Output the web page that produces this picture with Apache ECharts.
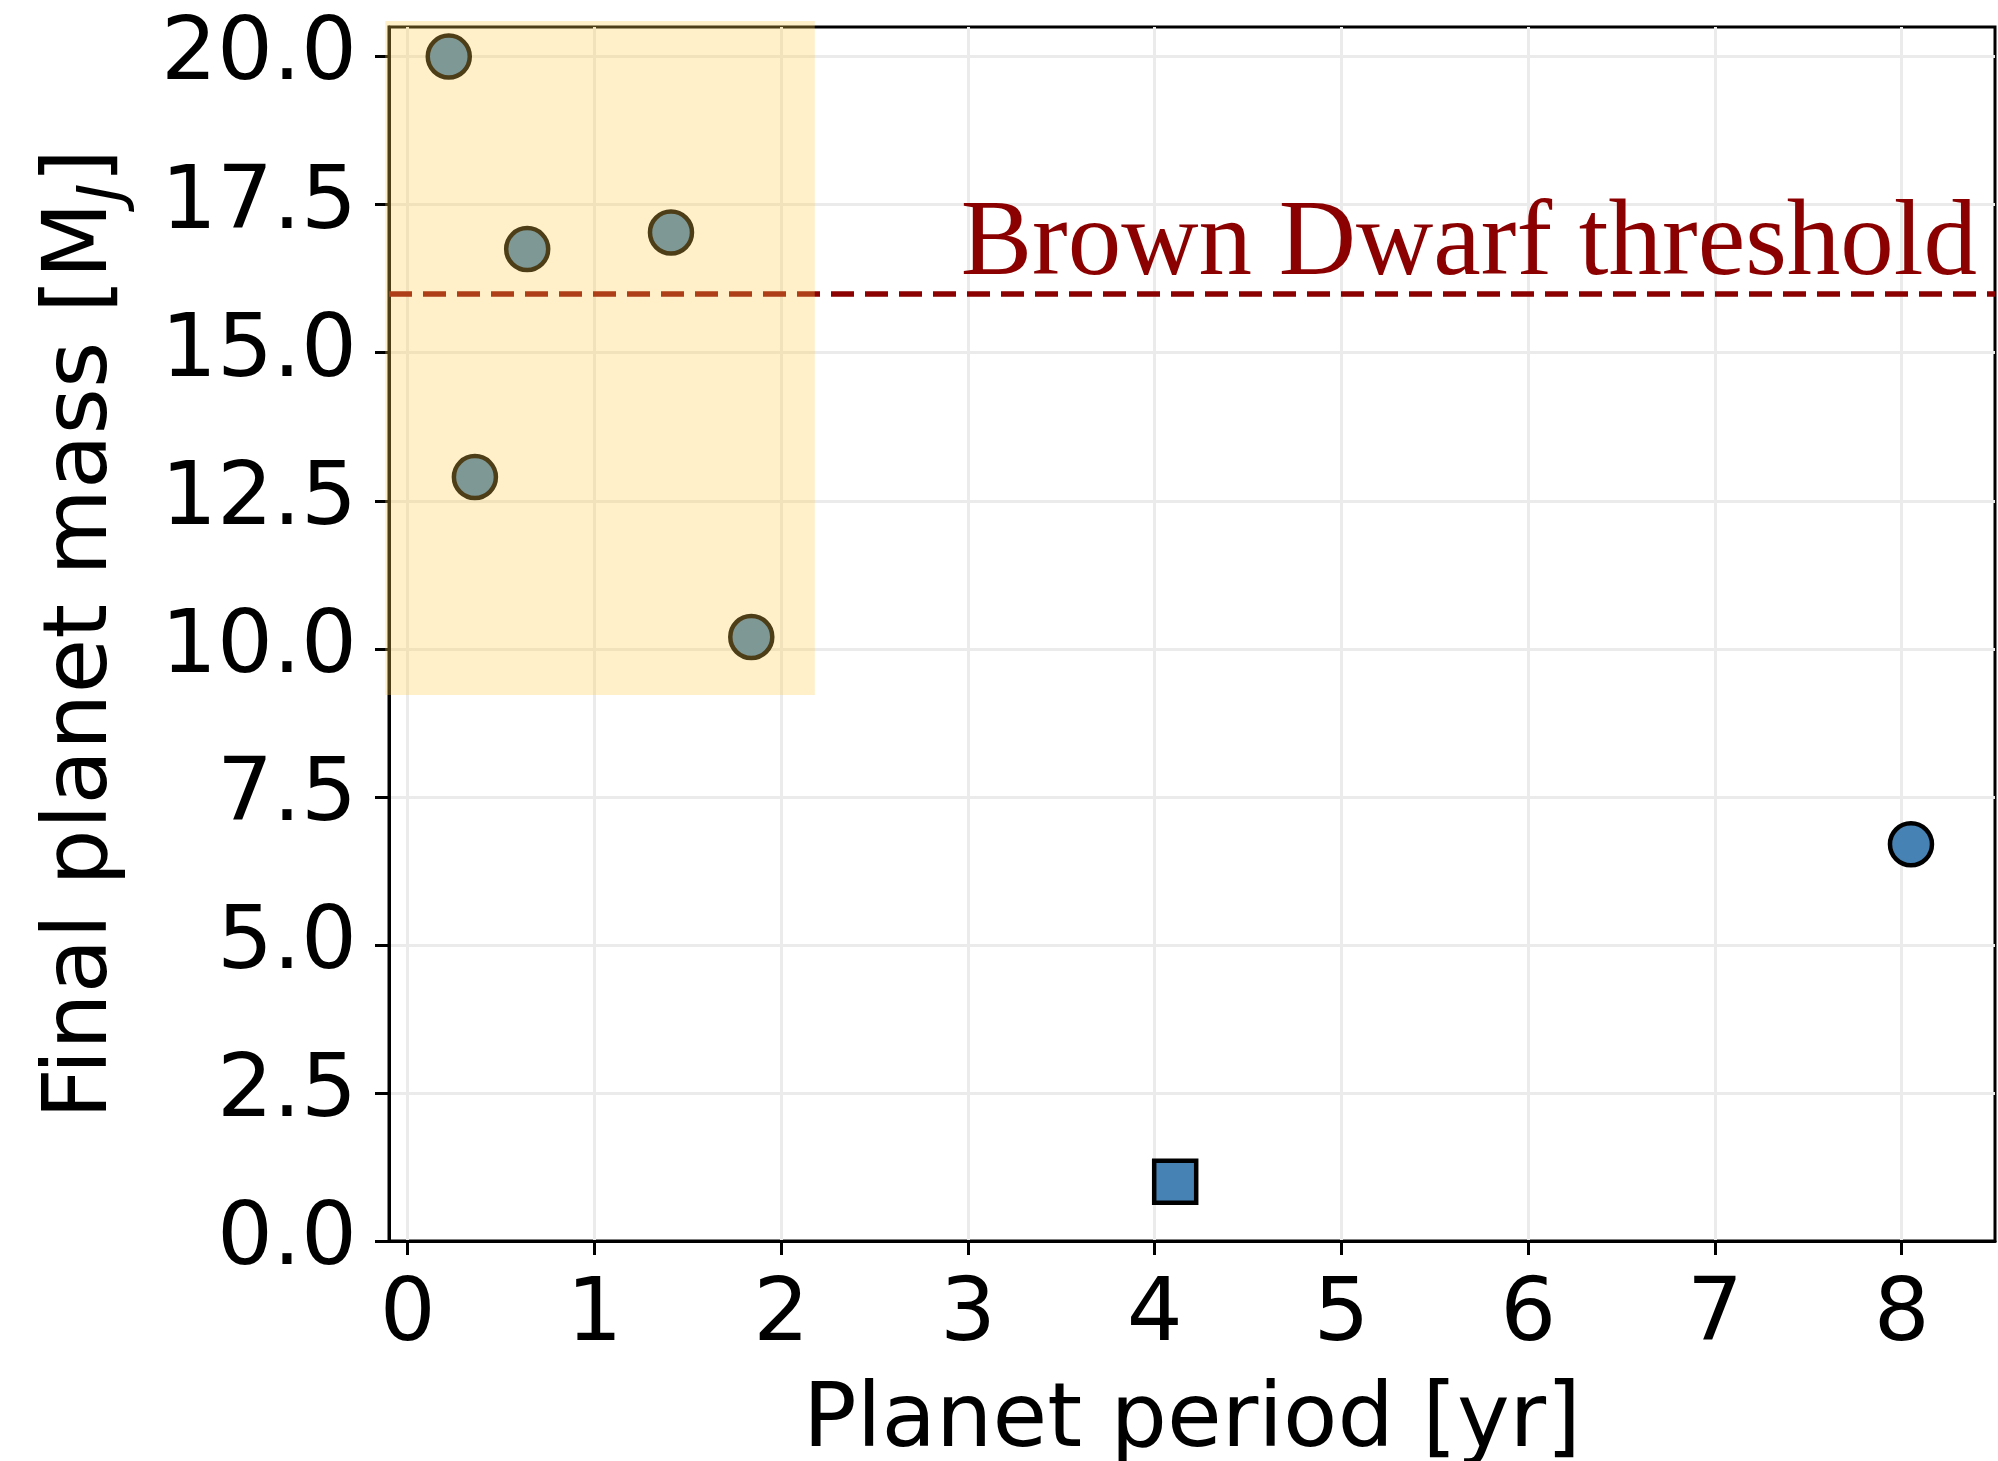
<!DOCTYPE html>
<html>
<head>
<meta charset="utf-8">
<script src="https://cdn.jsdelivr.net/npm/echarts@6/dist/echarts.min.js"></script>
<style>
  html, body { margin: 0; padding: 0; background: #fff; }
  #chart { width: 1998px; height: 1461px; }
</style>
</head>
<body>
<div id="chart"></div>
<script>
// ---- data ----
const circlePeriods = [0.22, 0.64, 1.41, 0.36, 1.84, 8.05];
const circleMasses  = [20.0, 16.75, 17.03, 12.9, 10.2, 6.7];
const squarePeriods = [4.11];
const squareMasses  = [1.0];
const brownDwarfThreshold = 16;
const thresholdLabel = 'Brown Dwarf threshold';
const shadedRegion = [-0.12, 2.18, 9.22, 20.6]; // xFrom, xTo, yFrom, yTo
const xTickValues = [0, 1, 2, 3, 4, 5, 6, 7, 8];
const yTickValues = [0, 2.5, 5, 7.5, 10, 12.5, 15, 17.5, 20];
const xAxisTitle = 'Planet period [yr]';

const FONT = 'DejaVu Sans';
const circleData = circlePeriods.map((p, i) => [p, circleMasses[i]]);
const squareData = squarePeriods.map((p, i) => [p, squareMasses[i]]);

const chart = echarts.init(document.getElementById('chart'), null, { renderer: 'canvas' });

const option = {
  backgroundColor: '#ffffff',
  animation: false,
  grid: {
    left: 389, right: 3, top: 27, bottom: 220,
    containLabel: false,
    outerBoundsMode: 'none',
    show: true, borderColor: '#000', borderWidth: 3, backgroundColor: 'transparent'
  },
  xAxis: {
    type: 'value',
    min: -0.1, max: 8.5,
    splitNumber: 9,
    name: xAxisTitle,
    nameLocation: 'middle',
    nameGap: 137,
    nameTextStyle: { fontFamily: FONT, fontSize: 89, color: '#000' },
    axisLine: { show: true, onZero: false, lineStyle: { color: '#000', width: 3 } },
    axisTick: { show: true, inside: false, length: 14, lineStyle: { color: '#000', width: 3 }, customValues: xTickValues },
    axisLabel: { fontFamily: FONT, fontSize: 88, color: '#000', margin: 32, customValues: xTickValues,
                 formatter: v => String(v) },
    splitLine: { show: true, lineStyle: { color: '#ebebeb', width: 3 } }
  },
  yAxis: {
    type: 'value',
    min: 0, max: 20.5,
    splitNumber: 9,
    name: '{a|Final planet mass [M}{s|J}{a|]}',
    nameLocation: 'middle',
    nameGap: 262,
    nameTextStyle: {
      fontFamily: FONT, fontSize: 89, color: '#000',
      rich: {
        a: { fontFamily: FONT, fontSize: 89, lineHeight: 89, color: '#000', verticalAlign: 'top' },
        s: { fontFamily: FONT, fontSize: 62, lineHeight: 62, fontStyle: 'italic', color: '#000',
             verticalAlign: 'top', padding: [36, 0, 0, 0] }
      }
    },
    axisLine: { show: true, onZero: false, lineStyle: { color: '#000', width: 3 } },
    axisTick: { show: true, inside: false, length: 14, lineStyle: { color: '#000', width: 3 }, customValues: yTickValues },
    axisLabel: { fontFamily: FONT, fontSize: 88, color: '#000', margin: 32, customValues: yTickValues,
                 formatter: v => Number(v).toFixed(1) },
    splitLine: { show: true, lineStyle: { color: '#ebebeb', width: 3 } }
  },
  series: [
    {
      type: 'scatter',
      name: 'circles',
      data: circleData,
      symbol: 'circle',
      symbolSize: 42,
      itemStyle: { color: '#4682b4', borderColor: '#000', borderWidth: 4.5, opacity: 1 },
      z: 3,
      markLine: {
        silent: true,
        symbol: ['none', 'none'],
        data: [{ yAxis: brownDwarfThreshold }],
        lineStyle: { color: '#8b0000', width: 5.5, type: [23, 11] },
        label: {
          show: true,
          formatter: thresholdLabel,
          position: 'insideEndTop',
          distance: [18, -6],
          fontFamily: 'Liberation Serif',
          fontSize: 107,
          color: '#8b0000'
        }
      }
    },
    {
      type: 'scatter',
      name: 'square',
      data: squareData,
      symbol: 'rect',
      symbolSize: 42,
      itemStyle: { color: '#4682b4', borderColor: '#000', borderWidth: 4.5, opacity: 1 },
      z: 3
    },
    {
      type: 'custom',
      name: 'shade',
      clip: false,
      silent: true,
      z: 20,
      data: [shadedRegion],
      renderItem: function (params, api) {
        const p0 = api.coord([api.value(0), api.value(3)]);
        const p1 = api.coord([api.value(1), api.value(2)]);
        return {
          type: 'rect',
          shape: { x: p0[0], y: p0[1], width: p1[0] - p0[0], height: p1[1] - p0[1] },
          style: { fill: 'rgba(255, 205, 80, 0.3)' }
        };
      }
    }
  ]
};

chart.setOption(option);
</script>
</body>
</html>
